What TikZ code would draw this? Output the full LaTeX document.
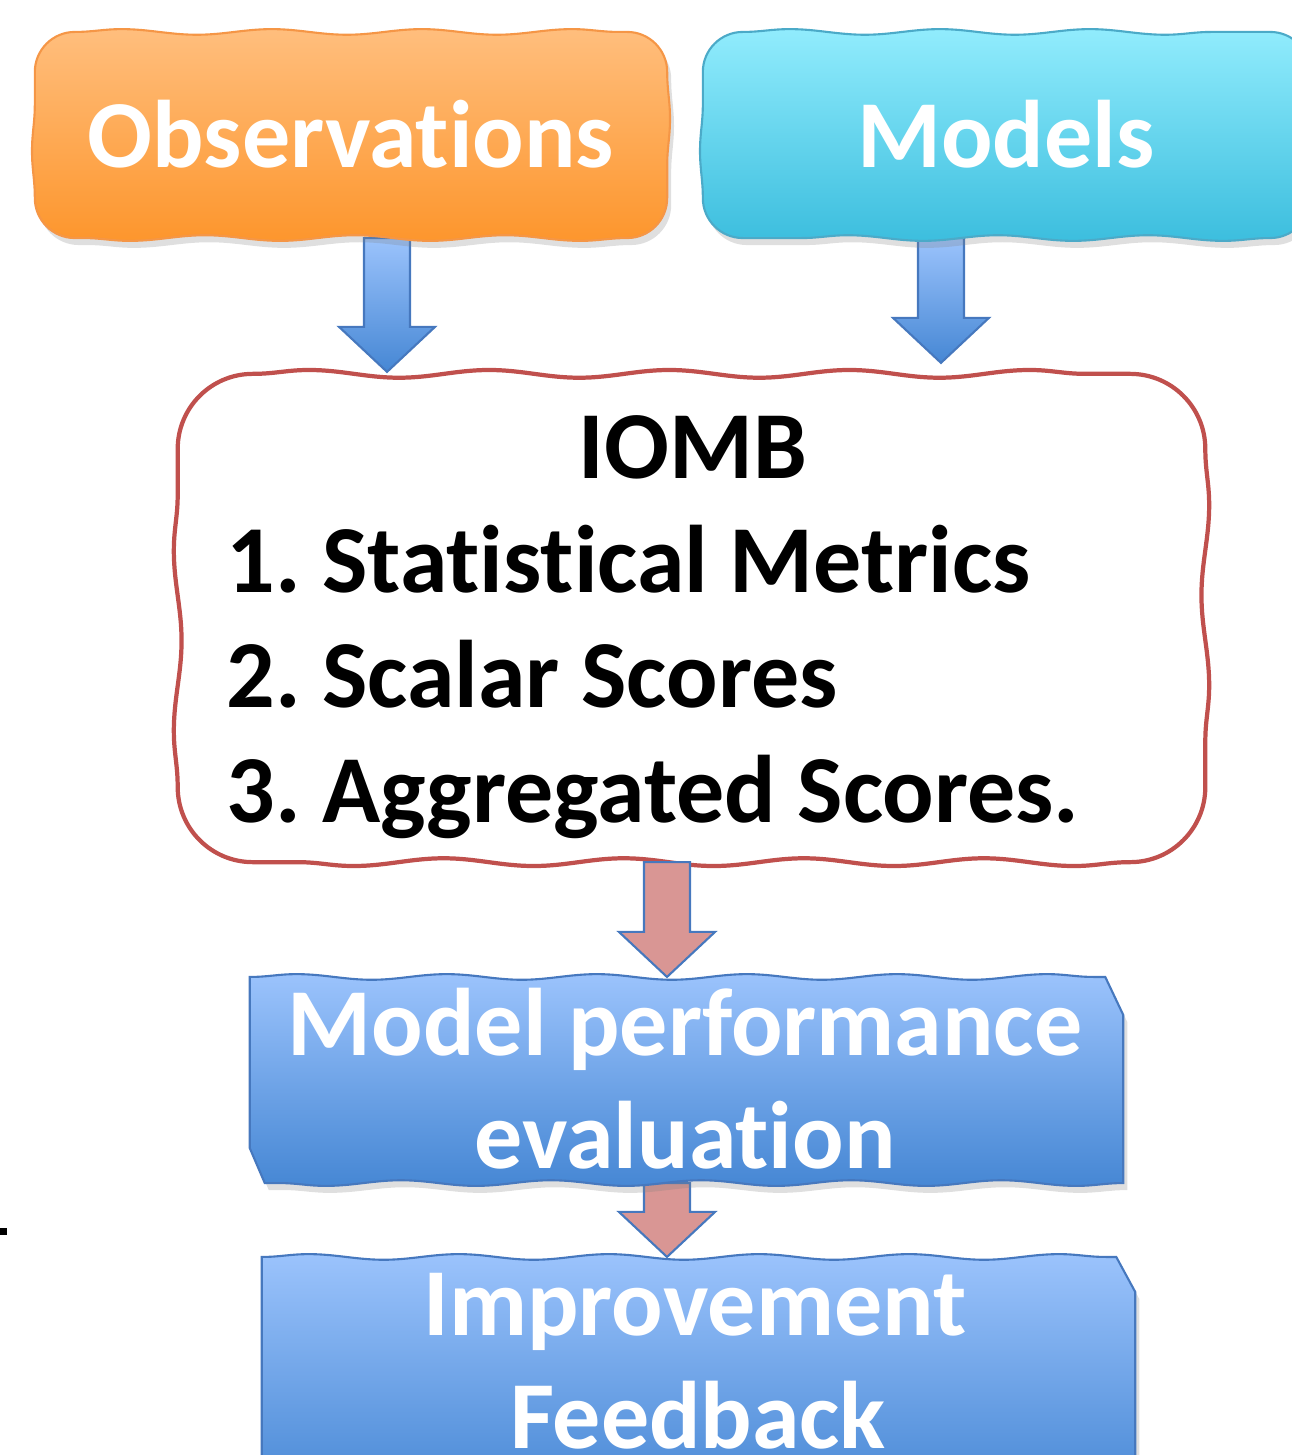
\documentclass[tikz,border=0pt]{standalone}
\usepackage{fontspec}
\setmainfont{Carlito}[Ligatures=CommonOff]
\usepackage{tikz}
\usetikzlibrary{
  positioning,
  calc,
  backgrounds,
  shadows,
  decorations.pathmorphing
}

\definecolor{obstop}{RGB}{255,190,125}
\definecolor{obsbottom}{RGB}{253,150,45}
\definecolor{obsline}{RGB}{245,150,70}
\definecolor{modtop}{RGB}{145,236,253}
\definecolor{modbottom}{RGB}{60,190,222}
\definecolor{modline}{RGB}{75,170,200}
\definecolor{bluetop}{RGB}{155,195,252}
\definecolor{bluebottom}{RGB}{70,135,212}
\definecolor{blueline}{RGB}{70,120,190}
\definecolor{iombline}{RGB}{192,80,77}
\definecolor{redarrow}{RGB}{217,150,148}

\tikzset{
  holder/.style={inner sep=0pt, outer sep=0pt},
  boxtext/.style={anchor=base, inner sep=0pt, text=white,
    font=\bfseries\fontsize{27.3}{33}\selectfont},
  itemtext/.style={boxtext, text=black},
  wavy/.style={decoration={snake, segment length=1.5cm, amplitude=0.8pt}},
  shadowed/.style={drop shadow={opacity=0.25, shadow xshift=0.04cm, shadow yshift=-0.07cm}},
  obsfill/.style={draw=obsline, line width=0.6pt, top color=obstop, bottom color=obsbottom,
    wavy, shadowed},
  modfill/.style={draw=modline, line width=0.6pt, top color=modtop, bottom color=modbottom,
    wavy, shadowed},
  iombfill/.style={draw=iombline, line width=1.2pt, fill=white,
    decoration={snake, segment length=1.8cm, amplitude=1.1pt}},
  tornfill/.style={draw=blueline, line width=0.6pt, top color=bluetop, bottom color=bluebottom,
    wavy, shadowed},
  bluearrow/.style={draw=blueline, line width=0.6pt, top color=bluetop, bottom color=bluebottom},
  redarrowstyle/.style={draw=blueline, line width=0.6pt, fill=redarrow}
}

% 太い矢印: #1 スタイル, #2 始点, #3 先端(y のみ使う)
\newcommand{\blockarrow}[3]{%
  \draw[#1] let \p1=#2, \p2=#3 in
    (\x1-0.23cm,\y1) -- (\x1+0.23cm,\y1) -- (\x1+0.23cm,\y2+0.45cm)
    -- (\x1+0.48cm,\y2+0.45cm) -- (\x1,\y2) -- (\x1-0.48cm,\y2+0.45cm)
    -- (\x1-0.23cm,\y2+0.45cm) -- cycle;}

% 波打つ角丸の箱: #1 スタイル, #2 ノード, #3 角の半径
\newcommand{\wavybox}[3]{%
  \draw[#1] ([xshift=#3]#2.north west)
    decorate{-- ([xshift=-#3]#2.north east)}
    arc[start angle=90, end angle=0, radius=#3]
    decorate{-- ([yshift=#3]#2.south east)}
    arc[start angle=0, end angle=-90, radius=#3]
    decorate{-- ([xshift=#3]#2.south west)}
    arc[start angle=270, end angle=180, radius=#3]
    decorate{-- ([yshift=-#3]#2.north west)}
    arc[start angle=180, end angle=90, radius=#3] -- cycle;}

\begin{document}
\begin{tikzpicture}[x=0.01cm, y=-0.01cm]
  \useasboundingbox (0,0) rectangle (1291,1455);

  % 箱の位置と大きさ
  \node[holder, minimum width=6.32cm, minimum height=2.06cm] (obsbox) at (351,135) {};
  \node[holder, minimum width=6.07cm, minimum height=2.06cm] (modbox) at (1006.5,135) {};
  \node[holder, minimum width=10.27cm, minimum height=4.88cm] (iombbox) at (691.5,618) {};
  \node[holder, minimum width=8.73cm, minimum height=2.06cm] (perfbox) at (686.5,1080) {};
  \node[holder, minimum width=8.73cm, minimum height=2.43cm] (imprbox) at (698.5,1378.5) {};

  % 文字
  \node[boxtext] (obs) at (351,168) {Observations};
  \node[boxtext] (mod) at (1006,168) {Models};
  \node[itemtext] (iomb) at (693,478) {IOMB};
  \node[itemtext, anchor=base west] (item1) at (226,592) {1.\hspace{-0.08em} Statistical Metrics};
  \node[itemtext, anchor=base west] (item2) at (226,707) {2.\hspace{-0.08em} Scalar Scores};
  \node[itemtext, anchor=base west] (item3) at (226,822) {3.\hspace{-0.08em} Aggregated Scores.};
  \node[boxtext] (perf1) at (685,1055) {Model performance};
  \node[boxtext] (perf2) at (685,1168) {evaluation};
  \node[boxtext] (impr1) at (695,1335) {Improvement};
  \node[boxtext] (impr2) at (698,1448) {Feedback};

  % 左端の印
  \fill (0,1228) rectangle (7,1235);

  \begin{scope}[on background layer, x=1cm, y=1cm]
    % IOMB の枠
    \wavybox{iombfill}{iombbox}{0.75cm}

    % 改善の箱
    \draw[tornfill] (imprbox.north west)
      decorate{-- ([xshift=-0.19cm]imprbox.north east)}
      -- ([yshift=-0.35cm]imprbox.north east) -- (imprbox.south east)
      -- ([xshift=0.1cm]imprbox.south west) -- ([yshift=0.3cm]imprbox.south west) -- cycle;

    % 矢印
    \blockarrow{bluearrow}{([xshift=0.36cm]obsbox.south)}{([yshift=0.02cm]iombbox.north)}
    \blockarrow{bluearrow}{([xshift=-0.655cm]modbox.south)}{([yshift=0.11cm]iombbox.north)}
    \blockarrow{redarrowstyle}{([xshift=-0.245cm]iombbox.south)}{(perfbox.north)}
    \blockarrow{redarrowstyle}{([xshift=-0.195cm]perfbox.south)}{(imprbox.north)}

    % 観測とモデルの箱
    \wavybox{obsfill}{obsbox}{0.4cm}
    \wavybox{modfill}{modbox}{0.4cm}

    % 性能評価の箱
    \draw[tornfill] (perfbox.north west)
      decorate{-- ([xshift=-0.18cm]perfbox.north east)}
      -- ([yshift=-0.38cm]perfbox.north east) -- (perfbox.south east)
      decorate{-- ([xshift=0.15cm]perfbox.south west)}
      -- ([yshift=0.35cm]perfbox.south west) -- cycle;
  \end{scope}
\end{tikzpicture}
\end{document}
